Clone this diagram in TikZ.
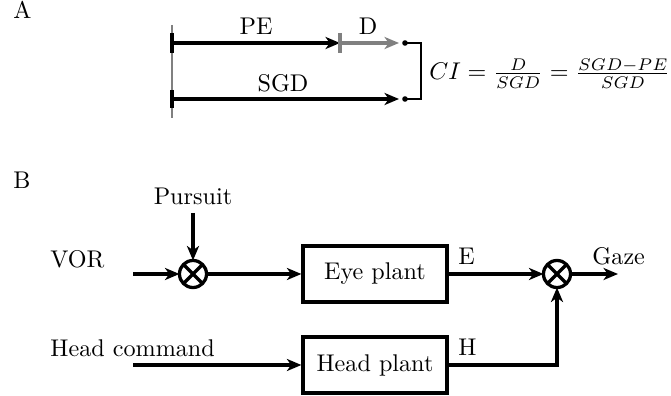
\documentclass[tikz,border=0pt]{standalone}
\usetikzlibrary{arrows.meta,calc}
\begin{document}
\begin{tikzpicture}[x=0.414pt,y=-0.414pt,
  lbl/.style={inner sep=0pt,anchor=base},
  blk/.style={draw,line width=1.35pt,minimum width=59.6pt,minimum height=23.2pt,inner sep=0pt},
  sumnode/.style={draw,circle,line width=1.35pt,minimum size=11.2pt,inner sep=0pt,outer sep=0pt},
  sig/.style={line width=1.35pt,-{Stealth[length=6pt,width=5pt,inset=1.75pt]}},
  plain/.style={line width=1.35pt},
  tick/.style={line width=1.65pt},
  grayline/.style={gray,line width=0.9pt},
  dot/.style={circle,fill,inner sep=0pt,minimum size=2.3pt},
]
\useasboundingbox (0,0) rectangle (671,396);
% ---------- Part A ----------
\node[lbl,anchor=base west] (labA) at (13,19) {A};
\coordinate (vtop) at (172,25);
\coordinate (vbot) at (172,118);
\draw[grayline] (vtop) -- (vbot);
\coordinate (t1a) at (172,33); \coordinate (t1b) at (172,53);
\coordinate (t2a) at (172,90); \coordinate (t2b) at (172,108);
\draw[tick] (t1a) -- (t1b);
\draw[tick] (t2a) -- (t2b);
\coordinate (peS) at (172,43);
\coordinate (peE) at (340,43);
\coordinate (dE) at (399,43);
\coordinate (sgdS) at (172,99);
\coordinate (sgdE) at (399,99);
\draw[sig] (peS) -- (peE);
\coordinate (g1a) at (340,33); \coordinate (g1b) at (340,53);
\draw[gray,line width=1.4pt] (g1a) -- (g1b);
\draw[sig,gray] (peE) -- (dE);
\draw[sig] (sgdS) -- (sgdE);
\node[dot] (d1) at (405,43) {};
\node[dot] (d2) at (405,99) {};
\coordinate (b1) at (421,43);
\coordinate (b2) at (421,99);
\draw[line width=1pt] (d1.center) -- (b1) -- (b2) -- (d2.center);
\node[lbl] (pe) at (256,35) {PE};
\node[lbl] (dl) at (368,35) {D};
\node[lbl] (sgd) at (283,92) {SGD};
\node[lbl,anchor=base west] (ci) at (429,80) {$CI = \frac{D}{SGD} = \frac{SGD-PE}{SGD}$};
% ---------- Part B ----------
\node[lbl,anchor=base west] (labB) at (13,189) {B};
\node[sumnode] (s1) at (193,274) {};
\draw[plain] (s1.north east) -- (s1.south west) (s1.north west) -- (s1.south east);
\node[blk] (eye) at (375,274) {Eye plant};
\node[blk] (head) at (375,365) {Head plant};
\node[sumnode] (s2) at (557,274) {};
\draw[plain] (s2.north east) -- (s2.south west) (s2.north west) -- (s2.south east);
\node[lbl] (pursuit) at (193,205) {Pursuit};
\node[lbl,anchor=base west] (vor) at (50,268) {VOR};
\node[lbl,anchor=base west] (hc) at (50,357) {Head command};
\node[lbl,anchor=base west] (el) at (458,265) {E};
\node[lbl,anchor=base west] (hl) at (458,356) {H};
\node[lbl,anchor=base west] (gaze) at (592,265) {Gaze};
\coordinate (vorS) at (133,274);
\coordinate (purS) at (193,213);
\coordinate (hcS) at (133,365);
\coordinate (gazeE) at (618,274);
\draw[sig] (vorS) -- (s1.west);
\draw[sig] (purS) -- (s1.north);
\draw[sig] (s1.east) -- (eye.west);
\draw[sig] (eye.east) -- (s2.west);
\draw[sig] (s2.east) -- (gazeE);
\draw[sig] (hcS) -- (head.west);
\draw[sig] (head.east) -- (s2 |- head.east) -- (s2.south);
\end{tikzpicture}
\end{document}
